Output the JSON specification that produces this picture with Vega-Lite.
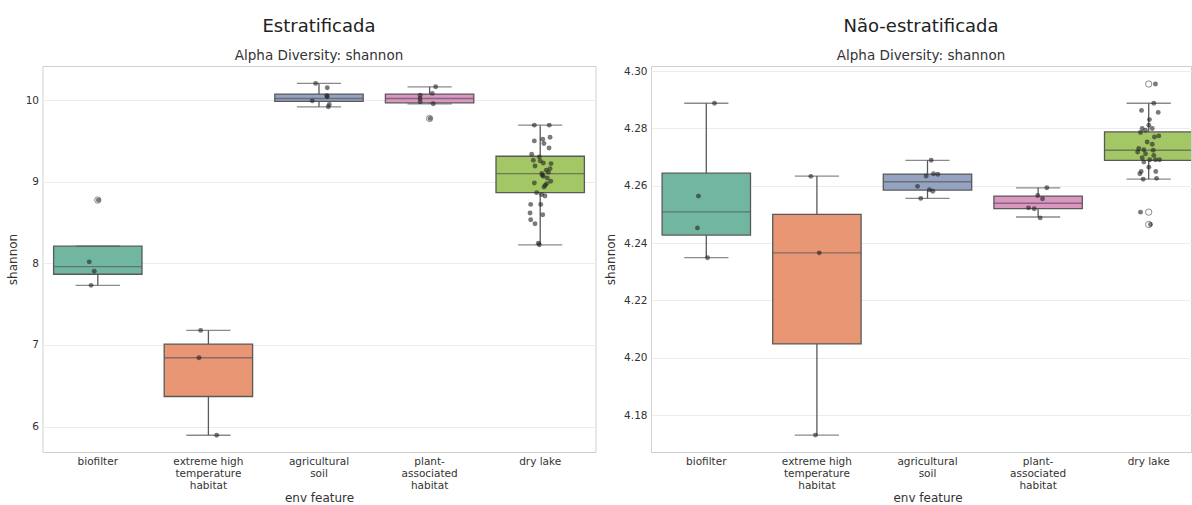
{
  "$schema": "https://vega.github.io/schema/vega-lite/v6.json",
  "background": "white",
  "padding": {"left": 5.5, "top": 17, "right": 0, "bottom": 0},
  "spacing": 7.5,
  "config": {
    "font": "DejaVu Sans",
    "view": {"stroke": "#cfcfcf", "strokeWidth": 1},
    "axis": {
      "labelFont": "DejaVu Sans",
      "titleFont": "DejaVu Sans",
      "labelFontSize": 10.5,
      "titleFontSize": 12,
      "titleFontWeight": "normal",
      "labelColor": "#333333",
      "titleColor": "#333333",
      "ticks": false,
      "domain": false,
      "labelPadding": 4,
      "titlePadding": 6,
      "gridColor": "#ececec",
      "gridWidth": 1
    },
    "title": {
      "font": "DejaVu Sans",
      "fontSize": 18,
      "fontWeight": "normal",
      "color": "#222222",
      "subtitleFont": "DejaVu Sans",
      "subtitleFontSize": 13.5,
      "subtitleColor": "#333333",
      "subtitlePadding": 13,
      "offset": 4,
      "anchor": "middle"
    }
  },
  "datasets": {
    "strat_box": [
      {"env_feature": "biofilter", "q1": 7.866, "median": 7.96, "q3": 8.21, "lower": 7.73, "upper": 8.21},
      {"env_feature": "extreme high temperature habitat", "q1": 6.368, "median": 6.843, "q3": 7.01, "lower": 5.893, "upper": 7.178},
      {"env_feature": "agricultural soil", "q1": 9.984, "median": 10.02, "q3": 10.074, "lower": 9.918, "upper": 10.205},
      {"env_feature": "plant-associated habitat", "q1": 9.967, "median": 10.02, "q3": 10.074, "lower": 9.955, "upper": 10.163},
      {"env_feature": "dry lake", "q1": 8.866, "median": 9.099, "q3": 9.312, "lower": 8.227, "upper": 9.693}
    ],
    "strat_pts": [
      {"env_feature": "biofilter", "shannon": 8.018, "jitter": -0.077, "outlier": false},
      {"env_feature": "biofilter", "shannon": 7.903, "jitter": -0.032, "outlier": false},
      {"env_feature": "biofilter", "shannon": 7.73, "jitter": -0.061, "outlier": false},
      {"env_feature": "biofilter", "shannon": 8.775, "jitter": 0.005, "outlier": true},
      {"env_feature": "extreme high temperature habitat", "shannon": 7.178, "jitter": -0.07, "outlier": false},
      {"env_feature": "extreme high temperature habitat", "shannon": 6.843, "jitter": -0.085, "outlier": false},
      {"env_feature": "extreme high temperature habitat", "shannon": 5.893, "jitter": 0.075, "outlier": false},
      {"env_feature": "agricultural soil", "shannon": 10.205, "jitter": -0.03, "outlier": false},
      {"env_feature": "agricultural soil", "shannon": 10.151, "jitter": 0.075, "outlier": false},
      {"env_feature": "agricultural soil", "shannon": 10.041, "jitter": 0.075, "outlier": false},
      {"env_feature": "agricultural soil", "shannon": 10.053, "jitter": 0.07, "outlier": false},
      {"env_feature": "agricultural soil", "shannon": 9.991, "jitter": -0.061, "outlier": false},
      {"env_feature": "agricultural soil", "shannon": 9.947, "jitter": 0.093, "outlier": false},
      {"env_feature": "agricultural soil", "shannon": 9.918, "jitter": 0.084, "outlier": false},
      {"env_feature": "plant-associated habitat", "shannon": 10.163, "jitter": 0.055, "outlier": false},
      {"env_feature": "plant-associated habitat", "shannon": 10.082, "jitter": 0.024, "outlier": false},
      {"env_feature": "plant-associated habitat", "shannon": 10.06, "jitter": -0.085, "outlier": false},
      {"env_feature": "plant-associated habitat", "shannon": 10.02, "jitter": -0.087, "outlier": false},
      {"env_feature": "plant-associated habitat", "shannon": 9.98, "jitter": -0.085, "outlier": false},
      {"env_feature": "plant-associated habitat", "shannon": 9.955, "jitter": 0.033, "outlier": false},
      {"env_feature": "plant-associated habitat", "shannon": 9.775, "jitter": 0.004, "outlier": true},
      {"env_feature": "dry lake", "shannon": 9.693, "jitter": -0.053, "outlier": false},
      {"env_feature": "dry lake", "shannon": 9.693, "jitter": 0.082, "outlier": false},
      {"env_feature": "dry lake", "shannon": 9.5, "jitter": -0.053, "outlier": false},
      {"env_feature": "dry lake", "shannon": 9.521, "jitter": 0.023, "outlier": false},
      {"env_feature": "dry lake", "shannon": 9.545, "jitter": 0.089, "outlier": false},
      {"env_feature": "dry lake", "shannon": 9.468, "jitter": 0.034, "outlier": false},
      {"env_feature": "dry lake", "shannon": 9.414, "jitter": 0.08, "outlier": false},
      {"env_feature": "dry lake", "shannon": 9.337, "jitter": -0.077, "outlier": false},
      {"env_feature": "dry lake", "shannon": 9.304, "jitter": -0.008, "outlier": false},
      {"env_feature": "dry lake", "shannon": 9.263, "jitter": -0.062, "outlier": false},
      {"env_feature": "dry lake", "shannon": 9.255, "jitter": 0.0, "outlier": false},
      {"env_feature": "dry lake", "shannon": 9.23, "jitter": 0.028, "outlier": false},
      {"env_feature": "dry lake", "shannon": 9.222, "jitter": 0.098, "outlier": false},
      {"env_feature": "dry lake", "shannon": 9.193, "jitter": -0.047, "outlier": false},
      {"env_feature": "dry lake", "shannon": 9.161, "jitter": 0.089, "outlier": false},
      {"env_feature": "dry lake", "shannon": 9.14, "jitter": 0.055, "outlier": false},
      {"env_feature": "dry lake", "shannon": 9.115, "jitter": 0.075, "outlier": false},
      {"env_feature": "dry lake", "shannon": 9.1, "jitter": 0.014, "outlier": false},
      {"env_feature": "dry lake", "shannon": 9.08, "jitter": 0.02, "outlier": false},
      {"env_feature": "dry lake", "shannon": 9.066, "jitter": 0.028, "outlier": false},
      {"env_feature": "dry lake", "shannon": 9.046, "jitter": 0.064, "outlier": false},
      {"env_feature": "dry lake", "shannon": 9.005, "jitter": 0.095, "outlier": false},
      {"env_feature": "dry lake", "shannon": 8.984, "jitter": -0.053, "outlier": false},
      {"env_feature": "dry lake", "shannon": 8.977, "jitter": 0.059, "outlier": false},
      {"env_feature": "dry lake", "shannon": 8.955, "jitter": 0.045, "outlier": false},
      {"env_feature": "dry lake", "shannon": 8.935, "jitter": 0.034, "outlier": false},
      {"env_feature": "dry lake", "shannon": 8.866, "jitter": -0.032, "outlier": false},
      {"env_feature": "dry lake", "shannon": 8.842, "jitter": 0.014, "outlier": false},
      {"env_feature": "dry lake", "shannon": 8.825, "jitter": 0.043, "outlier": false},
      {"env_feature": "dry lake", "shannon": 8.722, "jitter": -0.086, "outlier": false},
      {"env_feature": "dry lake", "shannon": 8.722, "jitter": 0.005, "outlier": false},
      {"env_feature": "dry lake", "shannon": 8.616, "jitter": -0.092, "outlier": false},
      {"env_feature": "dry lake", "shannon": 8.596, "jitter": 0.023, "outlier": false},
      {"env_feature": "dry lake", "shannon": 8.534, "jitter": -0.086, "outlier": false},
      {"env_feature": "dry lake", "shannon": 8.485, "jitter": -0.047, "outlier": false},
      {"env_feature": "dry lake", "shannon": 8.247, "jitter": -0.017, "outlier": false},
      {"env_feature": "dry lake", "shannon": 8.227, "jitter": -0.008, "outlier": false}
    ],
    "nonstrat_box": [
      {"env_feature": "biofilter", "q1": 4.2428, "median": 4.2509, "q3": 4.2644, "lower": 4.2349, "upper": 4.2888},
      {"env_feature": "extreme high temperature habitat", "q1": 4.2048, "median": 4.2366, "q3": 4.25, "lower": 4.173, "upper": 4.2634},
      {"env_feature": "agricultural soil", "q1": 4.2585, "median": 4.2614, "q3": 4.2641, "lower": 4.2556, "upper": 4.2689},
      {"env_feature": "plant-associated habitat", "q1": 4.252, "median": 4.2539, "q3": 4.2564, "lower": 4.2491, "upper": 4.2593},
      {"env_feature": "dry lake", "q1": 4.2689, "median": 4.2724, "q3": 4.2788, "lower": 4.2623, "upper": 4.2888}
    ],
    "nonstrat_pts": [
      {"env_feature": "biofilter", "shannon": 4.2888, "jitter": 0.074, "outlier": false},
      {"env_feature": "biofilter", "shannon": 4.2564, "jitter": -0.071, "outlier": false},
      {"env_feature": "biofilter", "shannon": 4.2453, "jitter": -0.08, "outlier": false},
      {"env_feature": "biofilter", "shannon": 4.2349, "jitter": 0.011, "outlier": false},
      {"env_feature": "extreme high temperature habitat", "shannon": 4.2633, "jitter": -0.055, "outlier": false},
      {"env_feature": "extreme high temperature habitat", "shannon": 4.2366, "jitter": 0.021, "outlier": false},
      {"env_feature": "extreme high temperature habitat", "shannon": 4.173, "jitter": -0.013, "outlier": false},
      {"env_feature": "agricultural soil", "shannon": 4.2689, "jitter": 0.033, "outlier": false},
      {"env_feature": "agricultural soil", "shannon": 4.2634, "jitter": -0.012, "outlier": false},
      {"env_feature": "agricultural soil", "shannon": 4.2642, "jitter": 0.054, "outlier": false},
      {"env_feature": "agricultural soil", "shannon": 4.264, "jitter": 0.093, "outlier": false},
      {"env_feature": "agricultural soil", "shannon": 4.2598, "jitter": -0.09, "outlier": false},
      {"env_feature": "agricultural soil", "shannon": 4.2586, "jitter": 0.018, "outlier": false},
      {"env_feature": "agricultural soil", "shannon": 4.2581, "jitter": 0.048, "outlier": false},
      {"env_feature": "agricultural soil", "shannon": 4.2556, "jitter": -0.061, "outlier": false},
      {"env_feature": "plant-associated habitat", "shannon": 4.2593, "jitter": 0.079, "outlier": false},
      {"env_feature": "plant-associated habitat", "shannon": 4.2566, "jitter": -0.003, "outlier": false},
      {"env_feature": "plant-associated habitat", "shannon": 4.2555, "jitter": 0.04, "outlier": false},
      {"env_feature": "plant-associated habitat", "shannon": 4.2523, "jitter": -0.087, "outlier": false},
      {"env_feature": "plant-associated habitat", "shannon": 4.252, "jitter": -0.035, "outlier": false},
      {"env_feature": "plant-associated habitat", "shannon": 4.2488, "jitter": 0.019, "outlier": false},
      {"env_feature": "dry lake", "shannon": 4.2955, "jitter": 0.0, "outlier": true},
      {"env_feature": "dry lake", "shannon": 4.2508, "jitter": 0.0, "outlier": true},
      {"env_feature": "dry lake", "shannon": 4.2465, "jitter": 0.0, "outlier": true},
      {"env_feature": "dry lake", "shannon": 4.2955, "jitter": 0.061, "outlier": false},
      {"env_feature": "dry lake", "shannon": 4.2508, "jitter": -0.074, "outlier": false},
      {"env_feature": "dry lake", "shannon": 4.2465, "jitter": 0.016, "outlier": false},
      {"env_feature": "dry lake", "shannon": 4.2888, "jitter": 0.046, "outlier": false},
      {"env_feature": "dry lake", "shannon": 4.2863, "jitter": -0.065, "outlier": false},
      {"env_feature": "dry lake", "shannon": 4.2856, "jitter": 0.086, "outlier": false},
      {"env_feature": "dry lake", "shannon": 4.2831, "jitter": 0.007, "outlier": false},
      {"env_feature": "dry lake", "shannon": 4.2811, "jitter": 0.001, "outlier": false},
      {"env_feature": "dry lake", "shannon": 4.28, "jitter": -0.059, "outlier": false},
      {"env_feature": "dry lake", "shannon": 4.28, "jitter": 0.032, "outlier": false},
      {"env_feature": "dry lake", "shannon": 4.2786, "jitter": -0.074, "outlier": false},
      {"env_feature": "dry lake", "shannon": 4.2794, "jitter": -0.029, "outlier": false},
      {"env_feature": "dry lake", "shannon": 4.2774, "jitter": 0.091, "outlier": false},
      {"env_feature": "dry lake", "shannon": 4.277, "jitter": 0.052, "outlier": false},
      {"env_feature": "dry lake", "shannon": 4.2753, "jitter": -0.014, "outlier": false},
      {"env_feature": "dry lake", "shannon": 4.2745, "jitter": 0.032, "outlier": false},
      {"env_feature": "dry lake", "shannon": 4.273, "jitter": -0.09, "outlier": false},
      {"env_feature": "dry lake", "shannon": 4.2726, "jitter": -0.044, "outlier": false},
      {"env_feature": "dry lake", "shannon": 4.2724, "jitter": 0.041, "outlier": false},
      {"env_feature": "dry lake", "shannon": 4.2718, "jitter": -0.1, "outlier": false},
      {"env_feature": "dry lake", "shannon": 4.2712, "jitter": -0.029, "outlier": false},
      {"env_feature": "dry lake", "shannon": 4.2706, "jitter": 0.046, "outlier": false},
      {"env_feature": "dry lake", "shannon": 4.2698, "jitter": -0.059, "outlier": false},
      {"env_feature": "dry lake", "shannon": 4.2691, "jitter": 0.01, "outlier": false},
      {"env_feature": "dry lake", "shannon": 4.2691, "jitter": 0.061, "outlier": false},
      {"env_feature": "dry lake", "shannon": 4.2691, "jitter": 0.098, "outlier": false},
      {"env_feature": "dry lake", "shannon": 4.2683, "jitter": -0.044, "outlier": false},
      {"env_feature": "dry lake", "shannon": 4.2665, "jitter": 0.001, "outlier": false},
      {"env_feature": "dry lake", "shannon": 4.265, "jitter": -0.068, "outlier": false},
      {"env_feature": "dry lake", "shannon": 4.265, "jitter": 0.064, "outlier": false},
      {"env_feature": "dry lake", "shannon": 4.2642, "jitter": -0.08, "outlier": false},
      {"env_feature": "dry lake", "shannon": 4.2623, "jitter": -0.05, "outlier": false},
      {"env_feature": "dry lake", "shannon": 4.2626, "jitter": 0.071, "outlier": false}
    ]
  },
  "hconcat": [
    {
      "title": {"text": "Estratificada", "subtitle": "Alpha Diversity: shannon"},
      "width": 553,
      "height": 386,
      "resolve": {"scale": {"x": "independent"}},
      "layer": [
        {
          "encoding": {
            "x": {
              "field": "env_feature", "type": "nominal",
              "sort": ["biofilter", "extreme high temperature habitat", "agricultural soil", "plant-associated habitat", "dry lake"],
              "scale": {"paddingInner": 0, "paddingOuter": 0},
              "axis": {
                "title": "env feature", "labelAngle": 0, "grid": false, "labelLineHeight": 12, "labelBaseline": "top", "titlePadding": 2,
                "labelExpr": "datum.label == 'extreme high temperature habitat' ? ['extreme high', 'temperature', 'habitat'] : datum.label == 'agricultural soil' ? ['agricultural', 'soil'] : datum.label == 'plant-associated habitat' ? ['plant-', 'associated', 'habitat'] : datum.label"
              }
            }
          },
          "layer": [
            {
              "data": {"name": "strat_box"},
              "mark": {"type": "rule", "color": "#595959", "strokeWidth": 1.3},
              "encoding": {
                "y": {"field": "lower", "type": "quantitative", "scale": {"domain": [5.688, 10.418], "nice": false, "zero": false},
                      "axis": {"title": "shannon", "values": [6, 7, 8, 9, 10], "format": "d", "grid": true}},
                "y2": {"field": "upper"}
              }
            },
            {
              "data": {"name": "strat_box"},
              "mark": {"type": "bar", "size": 88.4, "stroke": "#595959", "strokeWidth": 1.3},
              "encoding": {
                "y": {"field": "q1", "type": "quantitative"},
                "y2": {"field": "q3"},
                "color": {"field": "env_feature", "type": "nominal", "legend": null,
                  "scale": {"domain": ["biofilter", "extreme high temperature habitat", "agricultural soil", "plant-associated habitat", "dry lake"],
                            "range": ["#71b6a1", "#e99675", "#95a3c3", "#db96c1", "#a2c764"]}}
              }
            },
            {
              "data": {"name": "strat_box"},
              "mark": {"type": "tick", "color": "#595959", "size": 88.4, "thickness": 1.3},
              "encoding": {"y": {"field": "median", "type": "quantitative"}}
            },
            {
              "data": {"name": "strat_box"},
              "mark": {"type": "tick", "color": "#595959", "size": 44.2, "thickness": 1.3},
              "encoding": {"y": {"field": "lower", "type": "quantitative"}}
            },
            {
              "data": {"name": "strat_box"},
              "mark": {"type": "tick", "color": "#595959", "size": 44.2, "thickness": 1.3},
              "encoding": {"y": {"field": "upper", "type": "quantitative"}}
            },
            {
              "data": {"name": "strat_pts"},
              "transform": [{"filter": "datum.outlier"}],
              "mark": {"type": "point", "filled": false, "stroke": "#595959", "strokeWidth": 1, "size": 40},
              "encoding": {"y": {"field": "shannon", "type": "quantitative"}}
            }
          ]
        },
        {
          "data": {"name": "strat_pts"},
          "mark": {"type": "circle", "color": "#222222", "opacity": 0.6, "size": 24},
          "encoding": {
            "x": {
              "field": "env_feature", "type": "nominal",
              "sort": ["biofilter", "extreme high temperature habitat", "agricultural soil", "plant-associated habitat", "dry lake"],
              "scale": {"paddingInner": 0, "paddingOuter": 0},
              "axis": null
            },
            "y": {"field": "shannon", "type": "quantitative"},
            "xOffset": {"field": "jitter", "type": "quantitative", "scale": {"domain": [-0.5, 0.5], "range": [0, 110.6]}}
          }
        }
      ]
    },
    {
      "title": {"text": "Não-estratificada", "subtitle": "Alpha Diversity: shannon"},
      "width": 540,
      "height": 386,
      "resolve": {"scale": {"x": "independent"}},
      "layer": [
        {
          "encoding": {
            "x": {
              "field": "env_feature", "type": "nominal",
              "sort": ["biofilter", "extreme high temperature habitat", "agricultural soil", "plant-associated habitat", "dry lake"],
              "scale": {"paddingInner": 0, "paddingOuter": 0, "range": [0, 553]},
              "axis": {
                "title": "env feature", "labelAngle": 0, "grid": false, "labelLineHeight": 12, "labelBaseline": "top", "titleX": 276.5, "titlePadding": 2,
                "labelExpr": "datum.label == 'extreme high temperature habitat' ? ['extreme high', 'temperature', 'habitat'] : datum.label == 'agricultural soil' ? ['agricultural', 'soil'] : datum.label == 'plant-associated habitat' ? ['plant-', 'associated', 'habitat'] : datum.label"
              }
            }
          },
          "layer": [
            {
              "data": {"name": "nonstrat_box"},
              "mark": {"type": "rule", "color": "#595959", "strokeWidth": 1.3, "clip": true},
              "encoding": {
                "y": {"field": "lower", "type": "quantitative", "scale": {"domain": [4.1671, 4.3018], "nice": false, "zero": false},
                      "axis": {"title": "shannon", "values": [4.18, 4.2, 4.22, 4.24, 4.26, 4.28, 4.3], "format": ".2f", "grid": true}},
                "y2": {"field": "upper"}
              }
            },
            {
              "data": {"name": "nonstrat_box"},
              "mark": {"type": "bar", "size": 88.4, "stroke": "#595959", "strokeWidth": 1.3, "clip": true},
              "encoding": {
                "y": {"field": "q1", "type": "quantitative"},
                "y2": {"field": "q3"},
                "color": {"field": "env_feature", "type": "nominal", "legend": null,
                  "scale": {"domain": ["biofilter", "extreme high temperature habitat", "agricultural soil", "plant-associated habitat", "dry lake"],
                            "range": ["#71b6a1", "#e99675", "#95a3c3", "#db96c1", "#a2c764"]}}
              }
            },
            {
              "data": {"name": "nonstrat_box"},
              "mark": {"type": "tick", "color": "#595959", "size": 88.4, "thickness": 1.3, "clip": true},
              "encoding": {"y": {"field": "median", "type": "quantitative"}}
            },
            {
              "data": {"name": "nonstrat_box"},
              "mark": {"type": "tick", "color": "#595959", "size": 44.2, "thickness": 1.3, "clip": true},
              "encoding": {"y": {"field": "lower", "type": "quantitative"}}
            },
            {
              "data": {"name": "nonstrat_box"},
              "mark": {"type": "tick", "color": "#595959", "size": 44.2, "thickness": 1.3, "clip": true},
              "encoding": {"y": {"field": "upper", "type": "quantitative"}}
            },
            {
              "data": {"name": "nonstrat_pts"},
              "transform": [{"filter": "datum.outlier"}],
              "mark": {"type": "point", "filled": false, "stroke": "#595959", "strokeWidth": 1, "size": 40, "clip": true},
              "encoding": {"y": {"field": "shannon", "type": "quantitative"}}
            }
          ]
        },
        {
          "data": {"name": "nonstrat_pts"},
          "transform": [{"filter": "!datum.outlier"}],
          "mark": {"type": "circle", "color": "#222222", "opacity": 0.6, "size": 24, "clip": true},
          "encoding": {
            "x": {
              "field": "env_feature", "type": "nominal",
              "sort": ["biofilter", "extreme high temperature habitat", "agricultural soil", "plant-associated habitat", "dry lake"],
              "scale": {"paddingInner": 0, "paddingOuter": 0, "range": [0, 553]},
              "axis": null
            },
            "y": {"field": "shannon", "type": "quantitative"},
            "xOffset": {"field": "jitter", "type": "quantitative", "scale": {"domain": [-0.5, 0.5], "range": [0, 110.6]}}
          }
        }
      ]
    }
  ]
}
